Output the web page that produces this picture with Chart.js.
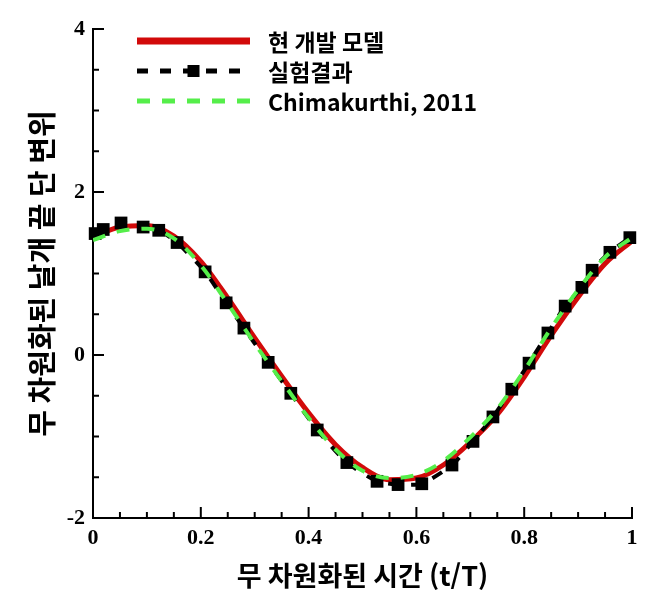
<!DOCTYPE html>
<html lang="ko">
<head>
<meta charset="UTF-8">
<title>무 차원화된 날개 끝 단 변위</title>
<script src="https://cdn.jsdelivr.net/npm/chart.js"></script>
<style>
    html, body {
        margin: 0;
        padding: 0;
        background: #fff;
    }
    .wrap {
        width: 670px;
        height: 603px;
    }
</style>
</head>
<body>
<div class="wrap">
    <canvas id="tipChart" width="670" height="603"></canvas>
</div>
<script>
// t/T where the two computed curves were read
const tCurve = [0, 0.05, 0.1, 0.15, 0.2, 0.25, 0.3, 0.35, 0.4, 0.45, 0.5,
                0.55, 0.6, 0.65, 0.7, 0.75, 0.8, 0.85, 0.9, 0.95, 1];
// 현 개발 모델 (red)
const modelVals = [1.45, 1.57, 1.59, 1.46, 1.15, 0.70, 0.21, -0.26, -0.71, -1.10, -1.38,
                   -1.53, -1.51, -1.35, -1.07, -0.73, -0.27, 0.24, 0.71, 1.12, 1.40];
// Chimakurthi, 2011 (green)
const chimVals = [1.41, 1.52, 1.55, 1.43, 1.10, 0.63, 0.14, -0.32, -0.77, -1.16, -1.42,
                  -1.51, -1.47, -1.30, -1.01, -0.66, -0.19, 0.33, 0.80, 1.20, 1.44];
// 실험결과 (black squares)
const tExp = [0.004, 0.019, 0.052, 0.093, 0.122, 0.156, 0.208, 0.247, 0.28, 0.325, 0.367,
              0.416, 0.471, 0.527, 0.566, 0.61, 0.666, 0.705, 0.742, 0.777, 0.809,
              0.844, 0.876, 0.907, 0.926, 0.959, 0.996];
const expVals = [1.49, 1.54, 1.62, 1.57, 1.53, 1.38, 1.02, 0.64, 0.33, -0.09, -0.47,
                 -0.92, -1.32, -1.55, -1.59, -1.58, -1.35, -1.06, -0.76, -0.42, -0.10,
                 0.27, 0.60, 0.83, 1.04, 1.26, 1.44];

const seriesNames = ['현 개발 모델', '실험결과', 'Chimakurthi, 2011'];

const xTicks = [0, 0.2, 0.4, 0.6, 0.8, 1];
const yTicks = [-2, 0, 2, 4];

const toPts = (xs, ys) => xs.map((x, i) => ({ x: x, y: ys[i] }));

const serifBold = { family: '"Liberation Serif", "Times New Roman", serif', weight: 'bold', size: 22 };
const hangulBold = '"Noto Sans CJK KR", "Noto Sans", sans-serif';

// inward tick marks, Tecplot style
const inwardTicks = {
    id: 'inwardTicks',
    afterDraw(chart) {
        const { ctx, chartArea: a, scales: { x, y } } = chart;
        ctx.save();
        ctx.strokeStyle = '#000';
        ctx.lineWidth = 2;
        for (let i = 0; i <= 20; i++) {
            const px = x.getPixelForValue(i * 0.05);
            const len = i % 4 === 0 ? 11 : 6;
            ctx.beginPath();
            ctx.moveTo(px, a.bottom);
            ctx.lineTo(px, a.bottom - len);
            ctx.stroke();
        }
        for (let i = 0; i <= 12; i++) {
            const py = y.getPixelForValue(-2 + i * 0.5);
            const len = i % 4 === 0 ? 11 : 6;
            ctx.beginPath();
            ctx.moveTo(a.left, py);
            ctx.lineTo(a.left + len, py);
            ctx.stroke();
        }
        ctx.restore();
    }
};

// legend inside the plot, top left
const insideLegend = {
    id: 'insideLegend',
    afterDraw(chart) {
        const ctx = chart.ctx;
        const x0 = 137, x1 = 250, textX = 268;
        const rows = [41, 71, 101];
        ctx.save();
        chart.data.datasets.forEach((ds, i) => {
            const yy = rows[i];
            ctx.strokeStyle = ds.borderColor;
            ctx.lineWidth = ds.borderDash ? 5 : 7;
            ctx.setLineDash(ds.borderDash || []);
            ctx.beginPath();
            ctx.moveTo(x0, yy);
            ctx.lineTo(x1, yy);
            ctx.stroke();
            ctx.setLineDash([]);
            if (ds.pointRadius > 0) {
                ctx.fillStyle = ds.pointBackgroundColor;
                ctx.fillRect((x0 + x1) / 2 - 6, yy - 6, 12, 12);
            }
            ctx.fillStyle = '#000';
            ctx.font = 'bold 23px ' + hangulBold;
            ctx.textBaseline = 'middle';
            ctx.textAlign = 'left';
            ctx.fillText(ds.label, textX, yy + 1);
        });
        ctx.restore();
    }
};

const tipChart = new Chart(document.getElementById('tipChart'), {
    type: 'line',
    data: {
        datasets: [{
            label: seriesNames[0],
            data: toPts(tCurve, modelVals),
            borderColor: '#d20a0a',
            borderWidth: 5,
            pointRadius: 0,
            cubicInterpolationMode: 'monotone',
            order: 2
        }, {
            label: seriesNames[1],
            data: toPts(tExp, expVals),
            borderColor: '#000',
            borderWidth: 4,
            borderDash: [11, 12],
            pointStyle: 'rect',
            pointRadius: 9,
            pointBackgroundColor: '#000',
            pointBorderWidth: 0,
            tension: 0.2,
            clip: false,
            order: 1
        }, {
            label: seriesNames[2],
            data: toPts(tCurve, chimVals),
            borderColor: '#55ee4a',
            borderWidth: 4,
            borderDash: [13, 12],
            pointRadius: 0,
            cubicInterpolationMode: 'monotone',
            order: 0
        }]
    },
    options: {
        responsive: false,
        animation: false,
        events: [],
        layout: { padding: { top: 29, right: 38, bottom: 0, left: 0 } },
        plugins: {
            legend: { display: false },
            tooltip: { enabled: false }
        },
        scales: {
            x: {
                type: 'linear',
                min: 0,
                max: 1,
                afterBuildTicks: s => { s.ticks = xTicks.map(v => ({ value: v })); },
                afterFit: s => { s.height = 85; },
                grid: { display: false, drawTicks: false },
                border: { display: true, color: '#000', width: 2 },
                ticks: {
                    color: '#000',
                    font: serifBold,
                    padding: 7,
                    maxRotation: 0,
                    callback: v => String(Math.round(v * 10) / 10)
                },
                title: {
                    display: true,
                    text: '무 차원화된 시간 (t/T)',
                    color: '#000',
                    font: { family: hangulBold, weight: 'bold', size: 27 },
                    padding: { top: 0, bottom: 11 }
                }
            },
            y: {
                type: 'linear',
                min: -2,
                max: 4,
                afterBuildTicks: s => { s.ticks = yTicks.map(v => ({ value: v })); },
                afterFit: s => { s.width = 93; },
                grid: { display: false, drawTicks: false },
                border: { display: true, color: '#000', width: 2 },
                ticks: {
                    color: '#000',
                    font: serifBold,
                    padding: 8,
                    callback: v => String(v)
                },
                title: {
                    display: true,
                    text: '무 차원화된 날개 끝 단 변위',
                    color: '#000',
                    font: { family: hangulBold, weight: 'bold', size: 29 },
                    padding: { top: 25, bottom: 0 }
                }
            }
        }
    },
    plugins: [inwardTicks, insideLegend]
});
</script>
</body>
</html>
